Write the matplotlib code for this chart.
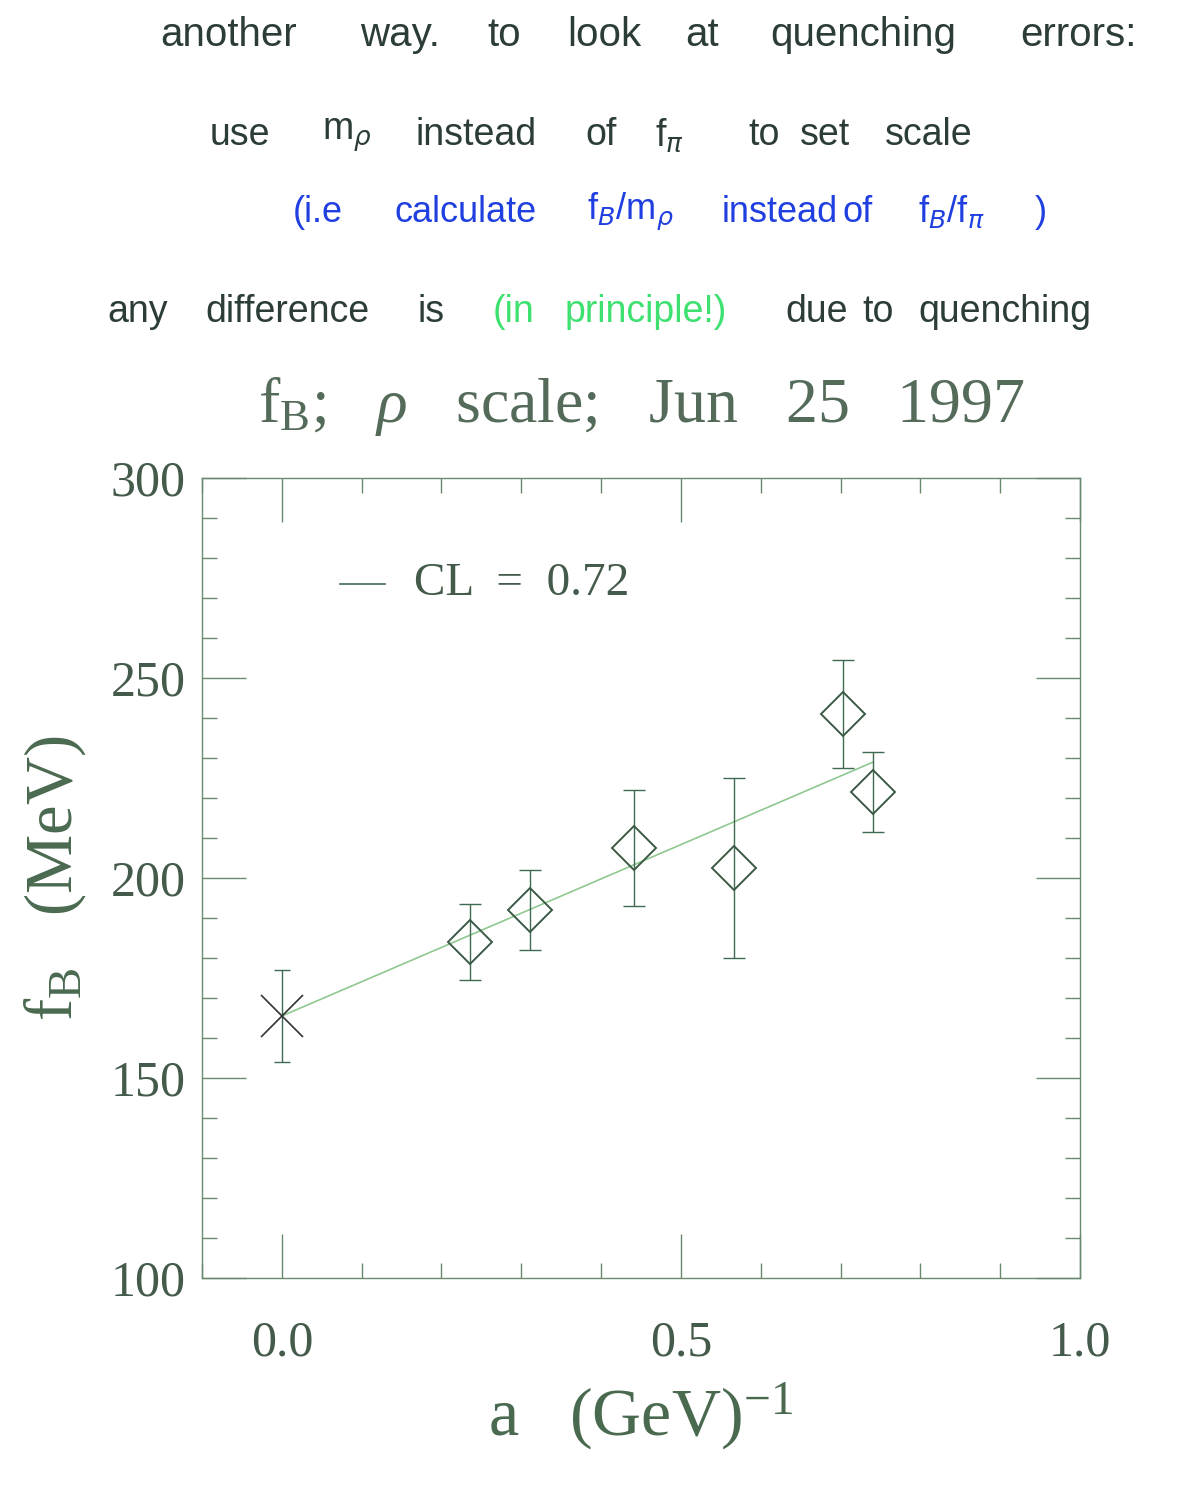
import matplotlib
matplotlib.use('Agg')
import matplotlib.pyplot as plt
from matplotlib.ticker import MultipleLocator

plt.rcParams['mathtext.fontset'] = 'custom'
plt.rcParams['mathtext.rm'] = 'Liberation Serif'
plt.rcParams['mathtext.it'] = 'Liberation Serif:italic'

# data
a_star = [0.0]
fb_star = [165.5]
err_star = [11.5]

a_pts = [0.236, 0.311, 0.441, 0.566, 0.703, 0.741]
fb_pts = [184.0, 192.0, 207.5, 202.5, 241.0, 221.5]
err_pts = [9.5, 10.0, 14.5, 22.5, 13.5, 10.0]

fit_a = [0.0, 0.741]
fit_fb = [165.5, 229.0]

# handwritten notes: (word, x pixel) per line
line1 = [('another', 160), ('way.', 360), ('to', 487), ('look', 567), ('at', 685),
         ('quenching', 770), ('errors:', 1020)]
line2 = [('use', 210), (r'm$_\rho$', 322), ('instead', 415), ('of', 585),
         (r'f$_\pi$', 655), ('to', 748), ('set', 800), ('scale', 885)]
line3 = [('(i.e', 293), ('calculate', 395), (r'f$_B$/m$_\rho$', 587), ('instead', 722),
         ('of', 842), (r'f$_B$/f$_\pi$', 918), (')', 1035)]
line4 = [('any', 107, 'k'), ('difference', 205, 'k'), ('is', 418, 'k'),
         ('(in', 493, 'g'), ('principle!)', 565, 'g'),
         ('due', 785, 'k'), ('to', 862, 'k'), ('quenching', 918, 'k')]

W, H = 1200, 1485
fig = plt.figure(figsize=(W / 100, H / 100), dpi=100)

ink = '#2c3d36'
blue = '#1f3fe0'
green = '#3ee070'
hand = ['Liberation Sans', 'DejaVu Sans']


def words(items, ypix, color, size=27):
    for it in items:
        w, x = it[0], it[1]
        c = color
        if len(it) > 2:
            c = green if it[2] == 'g' else ink
        fig.text(x / W, 1 - ypix / H, w, color=c, fontsize=size, family=hand,
                 va='center', ha='left', math_fontfamily='dejavusans')


words(line1, 35, ink, 29)
words(line2, 135, ink)
words(line3, 212, blue, 26)
words(line4, 312, ink)

plot_c = '#3f6a52'
frame_c = '#6a8a70'
lab_c = '#445a4a'
serif = ['Liberation Serif', 'DejaVu Serif']

ax = fig.add_axes([202 / W, 1 - 1278 / H, (1080 - 202) / W, (1278 - 478) / H])
ax.set_xlim(-0.1, 1.0)
ax.set_ylim(100, 300)

ax.plot(fit_a, fit_fb, color='#8fc890', lw=1.2)
ax.errorbar(a_star, fb_star, yerr=err_star, fmt='none', ecolor=plot_c,
            elinewidth=1.0, capsize=6)
ax.plot(a_star, fb_star, ls='none', marker='x', ms=30, mec='#333333', mew=1.2)
ax.errorbar(a_pts, fb_pts, yerr=err_pts, fmt='none', ecolor=plot_c,
            elinewidth=1.0, capsize=8)
ax.plot(a_pts, fb_pts, ls='none', marker='D', ms=22, mfc='none',
        mec='#3a5a45', mew=1.4)

# legend-like label
ax.plot([0.073, 0.129], [273.5, 273.5], color=plot_c, lw=1.2)
ax.text(0.165, 273.5, 'CL  =  0.72', fontsize=34, family=serif, color=lab_c,
        va='center', ha='left')

for s in ax.spines.values():
    s.set_color(frame_c)
    s.set_linewidth(1.0)

ax.xaxis.set_major_locator(MultipleLocator(0.5))
ax.xaxis.set_minor_locator(MultipleLocator(0.1))
ax.yaxis.set_major_locator(MultipleLocator(50))
ax.yaxis.set_minor_locator(MultipleLocator(10))
ax.tick_params(which='both', direction='in', top=True, right=True, color=frame_c)
ax.tick_params(which='major', length=32, width=1.0)
ax.tick_params(which='minor', length=11, width=1.0)
ax.tick_params(axis='y', which='major', pad=12)
ax.tick_params(axis='x', which='major', pad=30)
ax.set_xticks([0.0, 0.5, 1.0])
ax.set_xticklabels(['0.0', '0.5', '1.0'])
ax.set_yticks([100, 150, 200, 250, 300])
ax.set_yticklabels(['100', '150', '200', '250', '300'])
for lab in ax.get_xticklabels() + ax.get_yticklabels():
    lab.set_fontfamily(serif)
    lab.set_fontsize(36)
    lab.set_color(lab_c)

ax.set_title(r'f$_\mathrm{B}$;   $\rho$   scale;   Jun   25   1997', fontsize=46,
             family=serif, color='#556b5a', pad=40)
ax.set_xlabel(r'a   (GeV)$^{-1}$', fontsize=49, family=serif, color='#4a6a50',
              labelpad=10)
ax.set_ylabel(r'f$_\mathrm{B}$   (MeV)', fontsize=48, family=serif, color='#4a6a50',
              labelpad=16)

fig.savefig('out.png', dpi=100)
